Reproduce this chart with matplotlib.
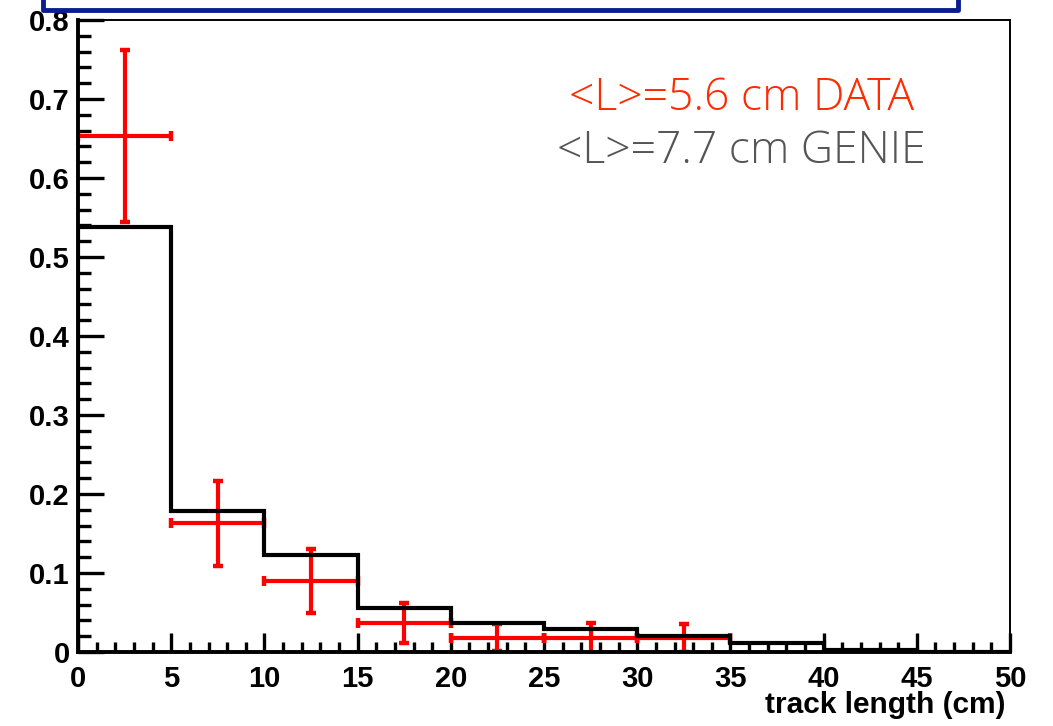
import numpy as np
import matplotlib
matplotlib.use("Agg")
import matplotlib.pyplot as plt
from matplotlib.lines import Line2D
from matplotlib.ticker import MultipleLocator

# bin edges (cm) and contents
edges = [0, 5, 10, 15, 20, 25, 30, 35, 40, 45, 50]
genie = [0.538, 0.179, 0.123, 0.056, 0.037, 0.029, 0.020, 0.012, 0.003, 0.0]

data_x = [2.5, 7.5, 12.5, 17.5, 22.5, 27.5, 32.5]
data_y = [0.653, 0.163, 0.090, 0.037, 0.018, 0.018, 0.018]
data_err = [0.109, 0.054, 0.041, 0.025, 0.017, 0.019, 0.018]

yticks = [0, 0.1, 0.2, 0.3, 0.4, 0.5, 0.6, 0.7, 0.8]
ytick_labels = ["0", "0.1", "0.2", "0.3", "0.4", "0.5", "0.6", "0.7", "0.8"]

plt.rcParams["font.family"] = ["Liberation Sans", "DejaVu Sans"]

fig = plt.figure(figsize=(10.53, 7.26), dpi=100)
ax = fig.add_axes([0.0741, 0.1019, 0.8851, 0.8706])

ax.stairs(genie, edges, color="black", lw=3.0, zorder=3)
ax.errorbar(data_x, data_y, xerr=2.5, yerr=data_err, fmt="none",
            ecolor="red", elinewidth=3.0, capsize=3.8, capthick=3.2, zorder=2)

ax.set_xlim(0, 50)
ax.set_ylim(0, 0.8)
ax.xaxis.set_major_locator(MultipleLocator(5))
ax.xaxis.set_minor_locator(MultipleLocator(1))
ax.set_yticks(yticks)
ax.set_yticklabels(ytick_labels)
ax.yaxis.set_minor_locator(MultipleLocator(0.02))

ax.tick_params(axis="both", which="both", direction="in", top=False, right=False,
               labelsize=21, width=2.4)
ax.tick_params(axis="x", which="major", length=14, pad=9)
ax.tick_params(axis="x", which="minor", length=7)
ax.tick_params(axis="y", which="major", length=19, pad=6)
ax.tick_params(axis="y", which="minor", length=9)
for lab in ax.get_xticklabels() + ax.get_yticklabels():
    lab.set_fontweight("bold")

for side in ["left", "bottom"]:
    ax.spines[side].set_linewidth(2.8)
for side in ["top", "right"]:
    ax.spines[side].set_linewidth(1.4)

fig.text(0.955, 0.018, "track length (cm)", ha="right", va="baseline",
         fontsize=21.5, fontweight="bold")

fig.text(0.7047, 0.8485, "<L>=5.6 cm DATA", ha="center", va="baseline",
         fontsize=32, color="#ff2a00", family=["Open Sans", "DejaVu Sans"], fontweight=300)
fig.text(0.7040, 0.7755, "<L>=7.7 cm GENIE", ha="center", va="baseline",
         fontsize=32, color="#555555", family=["Open Sans", "DejaVu Sans"], fontweight=300)

# hand-drawn blue box cut off at the top of the slide
fig.add_artist(Line2D([0.041, 0.041, 0.910, 0.910], [1.02, 0.986, 0.986, 1.02],
                      transform=fig.transFigure, color="#0a1f8f", lw=3.5))

fig.savefig("out.png", dpi=100)
